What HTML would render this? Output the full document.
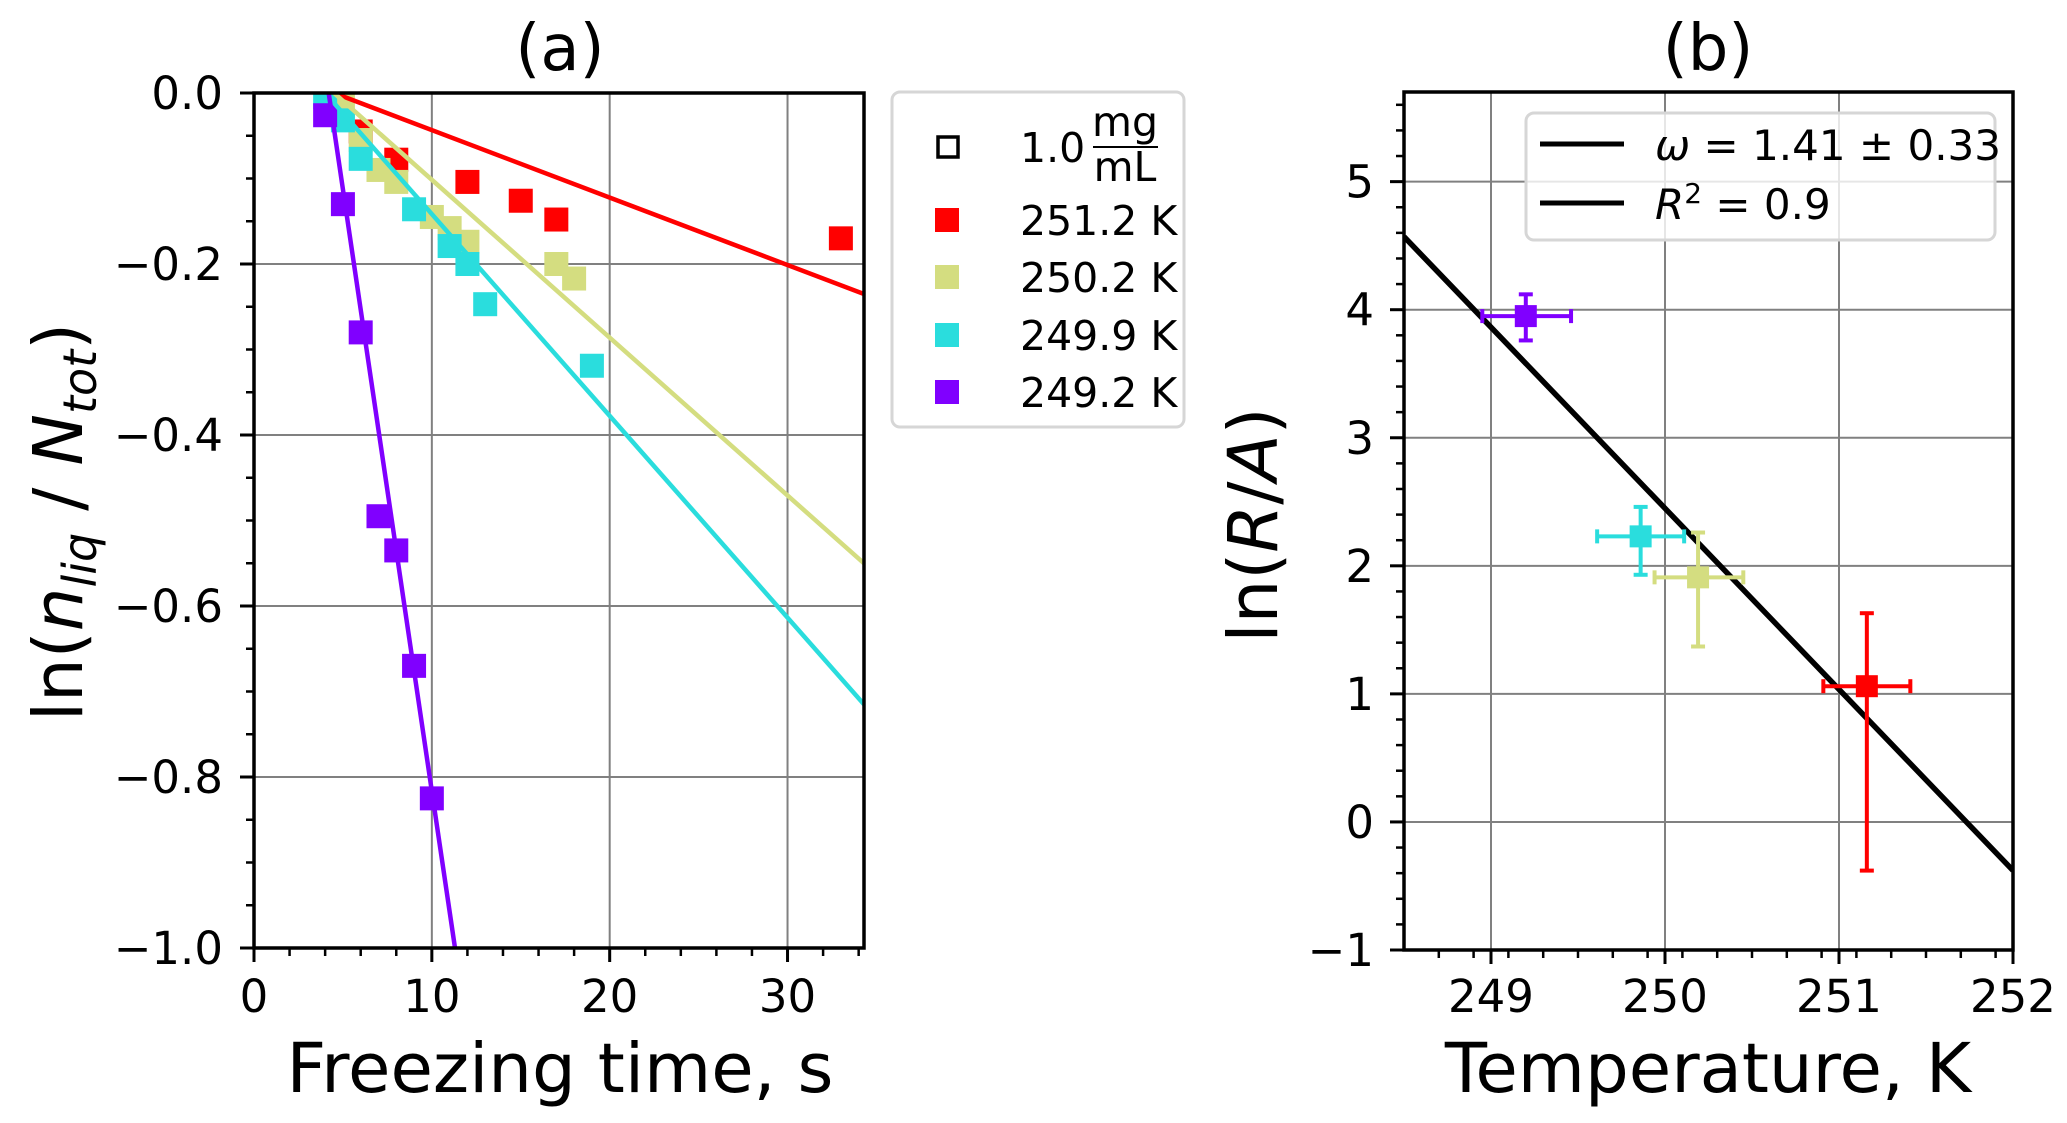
<!DOCTYPE html>
<html><head><meta charset="utf-8"><style>
html,body{margin:0;padding:0;background:#fff;}
svg{display:block;font-family:"DejaVu Sans","Liberation Sans",sans-serif;}
</style></head><body>
<svg id="fig" width="2067" height="1123" viewBox="0 0 2067 1123" xmlns="http://www.w3.org/2000/svg">
<rect width="2067" height="1123" fill="#fff"/>
<g id="pa"></g>
<g id="pb"></g>
</svg>
<script>
// ---------- Panel (a) data ----------
const seriesLabels = ["251.2 K","250.2 K","249.9 K","249.2 K"];
const seriesColors = ["#ff0000","#d4dd80","#2adddd","#8000ff"];
const redT = [6,8,12,15,17,33];
const redV = [-0.045,-0.078,-0.104,-0.126,-0.148,-0.17];
const yelT = [5,6,7,8,10,11,12,17,18];
const yelV = [-0.015,-0.055,-0.09,-0.104,-0.145,-0.158,-0.174,-0.2,-0.217];
const cyaT = [4,5,6,9,11,12,13,19];
const cyaV = [-0.005,-0.032,-0.077,-0.136,-0.179,-0.2,-0.247,-0.319];
const purT = [4,5,6,7,8,9,10];
const purV = [-0.026,-0.13,-0.28,-0.495,-0.535,-0.67,-0.825];
const fitStart = [4.5,4.5,4.0,4.2];
const fitSlope = [-0.00789,-0.01846,-0.0236,-0.1408];
const xTicksA = [0,10,20,30];
const yTicksA = [0,-0.2,-0.4,-0.6,-0.8,-1.0];
const yTickLabelsA = ["0.0","\u22120.2","\u22120.4","\u22120.6","\u22120.8","\u22121.0"];
// ---------- Panel (b) data ----------
const tempK = [249.2,249.86,250.19,251.16];
const lnRA = [3.95,2.23,1.91,1.06];
const pointColorsB = ["#8000ff","#2adddd","#d4dd80","#ff0000"];
const pointNamesB = ["249.2K","249.9K","250.2K","251.2K"];
const xErrLo = [0.25,0.25,0.25,0.25];
const xErrHi = [0.26,0.25,0.26,0.25];
const yErrLo = [0.19,0.30,0.54,1.44];
const yErrHi = [0.17,0.23,0.35,0.57];
const fitB = [4.57,-1.414]; // value at 248.5, slope
const xTicksB = [249,250,251,252];
const yTicksB = [-1,0,1,2,3,4,5];
const yTickLabelsB = ["\u22121","0","1","2","3","4","5"];

const NS="http://www.w3.org/2000/svg";
function el(parent,tag,attrs,text){const e=document.createElementNS(NS,tag);for(const k in attrs)e.setAttribute(k,attrs[k]);if(text!==undefined)e.textContent=text;parent.appendChild(e);return e;}

// ===== Panel A =====
const A={x0:254,x1:864,y0:93,y1:948,xmin:0,xmax:34.3,ymin:-1,ymax:0};
const xa=v=>A.x0+(v-A.xmin)/(A.xmax-A.xmin)*(A.x1-A.x0);
const ya=v=>A.y1-(v-A.ymin)/(A.ymax-A.ymin)*(A.y1-A.y0);
const pa=document.getElementById('pa');
el(pa,'defs',{}).innerHTML='<clipPath id="ca"><rect x="254" y="93" width="610" height="855"/></clipPath><clipPath id="cb"><rect x="1404" y="92" width="609" height="858"/></clipPath>';
xTicksA.forEach(t=>{ if(t>0){const g=el(pa,'line',{x1:xa(t),x2:xa(t),y1:A.y0,y2:A.y1,stroke:'#808080','stroke-width':2});

}});
yTicksA.forEach(t=>{ if(t<0&&t>-1){const g=el(pa,'line',{x1:A.x0,x2:A.x1,y1:ya(t),y2:ya(t),stroke:'#808080','stroke-width':2});

}});
const ptsA=[[redT,redV],[yelT,yelV],[cyaT,cyaV],[purT,purV]];
const gl=el(pa,'g',{'clip-path':'url(#ca)'});
ptsA.forEach((s,i)=>{
  s[0].forEach((t,j)=>{
    const r=el(gl,'rect',{x:xa(t)-12,y:ya(s[1][j])-12,width:24,height:24,fill:seriesColors[i]});
    
    
  });
});
fitStart.forEach((t0,i)=>{
  let t1=A.xmax, v1=fitSlope[i]*(t1-t0);
  if(v1<-1){t1=t0+(-1)/fitSlope[i]; v1=-1;}
  const l=el(gl,'line',{x1:xa(t0),y1:ya(0),x2:xa(t1),y2:ya(v1),stroke:seriesColors[i],'stroke-width':4.5});
  
  
});
xTicksA.forEach(t=>{el(pa,'line',{x1:xa(t),x2:xa(t),y1:A.y1,y2:A.y1+14,stroke:'#000','stroke-width':3});
  const tx=el(pa,'text',{x:xa(t),y:1012,'font-size':45,'text-anchor':'middle'},String(t));
  
  });
for(let t=2;t<=34;t+=2){ if(t%10)el(pa,'line',{x1:xa(t),x2:xa(t),y1:A.y1,y2:A.y1+8,stroke:'#000','stroke-width':2.5});}
yTicksA.forEach((t,i)=>{el(pa,'line',{x1:A.x0-14,x2:A.x0,y1:ya(t),y2:ya(t),stroke:'#000','stroke-width':3});
  const tx=el(pa,'text',{x:223,y:ya(t)+16,'font-size':45,'text-anchor':'end'},yTickLabelsA[i]);
  
  });
for(let k=1;k<20;k++){ if(k%4)el(pa,'line',{x1:A.x0-8,x2:A.x0,y1:ya(-k*0.05),y2:ya(-k*0.05),stroke:'#000','stroke-width':2.5});}
el(pa,'rect',{x:A.x0,y:A.y0,width:A.x1-A.x0,height:A.y1-A.y0,fill:'none',stroke:'#000','stroke-width':3.5});
let t;
t=el(pa,'text',{x:560,y:70,'font-size':64,'text-anchor':'middle'},'(a)');

t=el(pa,'text',{x:560,y:1092,'font-size':69,'text-anchor':'middle'},'Freezing time, s');

t=el(pa,'text',{x:0,y:0,'font-size':69,'text-anchor':'middle',transform:'translate(82,522) rotate(-90)'});
t.innerHTML='ln(<tspan font-style="italic">n</tspan><tspan font-style="italic" font-size="46" dy="14">liq</tspan><tspan dy="-14"> / </tspan><tspan font-style="italic">N</tspan><tspan font-style="italic" font-size="46" dy="14">tot</tspan><tspan dy="-14">)</tspan>';

const lg=el(pa,'g',{});

el(lg,'rect',{x:892,y:92,width:292,height:335,rx:8,fill:'#fff',stroke:'#d6d6d6','stroke-width':3});
el(lg,'rect',{x:938,y:137,width:20,height:20,fill:'none',stroke:'#000','stroke-width':3.5});
el(lg,'text',{x:1020,y:162,'font-size':41},'1.0');
el(lg,'text',{x:1125,y:136,'font-size':41,'text-anchor':'middle'},'mg');
el(lg,'line',{x1:1093,x2:1158,y1:147,y2:147,stroke:'#000','stroke-width':2});
el(lg,'text',{x:1125,y:181,'font-size':41,'text-anchor':'middle'},'mL');
const rowsY=[220,277,335,392];
seriesLabels.forEach((s,i)=>{
  const r=el(lg,'rect',{x:935,y:rowsY[i]-12,width:24,height:24,fill:seriesColors[i]});
  
  const tx=el(lg,'text',{x:1020,y:rowsY[i]+15,'font-size':41},s);
  
});

// ===== Panel B =====
const B={x0:1404,x1:2013,y0:92,y1:950,xmin:248.5,xmax:252,ymin:-1,ymax:5.7};
const xb=v=>B.x0+(v-B.xmin)/(B.xmax-B.xmin)*(B.x1-B.x0);
const yb=v=>B.y1-(v-B.ymin)/(B.ymax-B.ymin)*(B.y1-B.y0);
const pb=document.getElementById('pb');
xTicksB.forEach(v=>{ if(v<252){const g=el(pb,'line',{x1:xb(v),x2:xb(v),y1:B.y0,y2:B.y1,stroke:'#808080','stroke-width':2});
}});
yTicksB.forEach(v=>{ if(v>-1){const g=el(pb,'line',{x1:B.x0,x2:B.x1,y1:yb(v),y2:yb(v),stroke:'#808080','stroke-width':2});
}});
const gb=el(pb,'g',{'clip-path':'url(#cb)'});
const fl=el(gb,'line',{x1:xb(248.5),y1:yb(fitB[0]),x2:xb(252),y2:yb(fitB[0]+fitB[1]*3.5),stroke:'#000','stroke-width':5.5});

tempK.forEach((T,i)=>{
  const g=el(gb,'g',{stroke:pointColorsB[i],'stroke-width':4,fill:pointColorsB[i]});
  
  
  const cx=xb(T),cy=yb(lnRA[i]);
  const xl=xb(T-xErrLo[i]),xr=xb(T+xErrHi[i]),yt=yb(lnRA[i]+yErrHi[i]),ybm=yb(lnRA[i]-yErrLo[i]);
  el(g,'line',{x1:xl,x2:xr,y1:cy,y2:cy});
  el(g,'line',{x1:cx,x2:cx,y1:yt,y2:ybm});
  el(g,'line',{x1:xl,x2:xl,y1:cy-7,y2:cy+7});
  el(g,'line',{x1:xr,x2:xr,y1:cy-7,y2:cy+7});
  el(g,'line',{x1:cx-7,x2:cx+7,y1:yt,y2:yt});
  el(g,'line',{x1:cx-7,x2:cx+7,y1:ybm,y2:ybm});
  el(g,'rect',{x:cx-11,y:cy-11,width:22,height:22,stroke:'none'});
});
xTicksB.forEach(v=>{el(pb,'line',{x1:xb(v),x2:xb(v),y1:B.y1,y2:B.y1+14,stroke:'#000','stroke-width':3});
  const tx=el(pb,'text',{x:xb(v),y:1012,'font-size':45,'text-anchor':'middle'},String(v));
  });
for(let k=1;k<18;k++){const v=248.5+k*0.2; if(Math.abs(v-Math.round(v))>0.05)el(pb,'line',{x1:xb(v),x2:xb(v),y1:B.y1,y2:B.y1+8,stroke:'#000','stroke-width':2.5});}
yTicksB.forEach((v,i)=>{el(pb,'line',{x1:B.x0-14,x2:B.x0,y1:yb(v),y2:yb(v),stroke:'#000','stroke-width':3});
  const tx=el(pb,'text',{x:1374,y:yb(v)+16,'font-size':45,'text-anchor':'end'},yTickLabelsB[i]);
  });
for(let k=1;k<34;k++){const v=-1+k*0.2; if(Math.abs(v-Math.round(v))>0.05)el(pb,'line',{x1:B.x0-8,x2:B.x0,y1:yb(v),y2:yb(v),stroke:'#000','stroke-width':2.5});}
el(pb,'rect',{x:B.x0,y:B.y0,width:B.x1-B.x0,height:B.y1-B.y0,fill:'none',stroke:'#000','stroke-width':3.5});
t=el(pb,'text',{x:1708,y:70,'font-size':64,'text-anchor':'middle'},'(b)');

t=el(pb,'text',{x:1708,y:1092,'font-size':69,'text-anchor':'middle'},'Temperature, K');

t=el(pb,'text',{x:0,y:0,'font-size':69,'text-anchor':'middle',transform:'translate(1277,525) rotate(-90)'});
t.innerHTML='ln(<tspan font-style="italic">R</tspan>/<tspan font-style="italic">A</tspan>)';

const lgb=el(pb,'g',{});

el(lgb,'rect',{x:1526,y:113,width:469,height:127,rx:8,fill:'#fff','fill-opacity':0.8,stroke:'#d6d6d6','stroke-width':3});
el(lgb,'line',{x1:1540,x2:1624,y1:144,y2:144,stroke:'#000','stroke-width':5});
el(lgb,'line',{x1:1540,x2:1624,y1:203,y2:203,stroke:'#000','stroke-width':5});
t=el(lgb,'text',{x:1655,y:160,'font-size':42});
t.innerHTML='<tspan font-style="italic">ω</tspan> = 1.41 ± 0.33';

t=el(lgb,'text',{x:1655,y:219,'font-size':42});
t.innerHTML='<tspan font-style="italic">R</tspan><tspan font-size="28" dy="-16">2</tspan><tspan dy="16"> = 0.9</tspan>';

</script>
</body></html>
